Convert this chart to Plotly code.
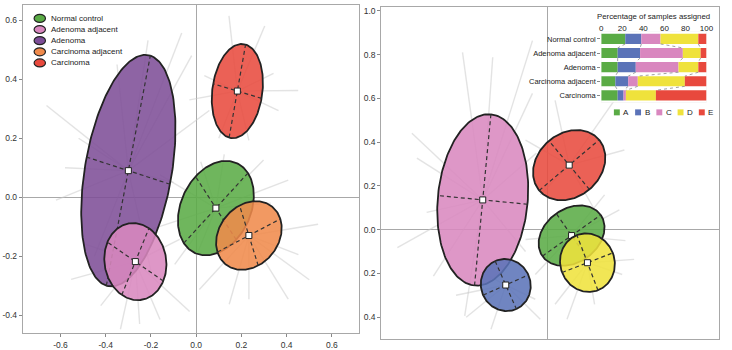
import numpy as np
import plotly.graph_objects as go

# ---------------- data ----------------
groups = ["Normal control", "Adenoma adjacent", "Adenoma", "Carcinoma adjacent", "Carcinoma"]
group_colors = ["#5aab45", "#d987bf", "#7d4d97", "#f08a4b", "#e8493d"]

# left panel ellipses (center, semi-axes, angle in degrees)
left_cx = [0.087, -0.269, -0.300, 0.233, 0.182]
left_cy = [-0.037, -0.2185, 0.090, -0.130, 0.360]
left_a = [0.185, 0.128, 0.402, 0.150, 0.162]
left_b = [0.140, 0.140, 0.190, 0.110, 0.110]
left_angle = [40, 62, 76, 22, 77]
left_order = [2, 1, 0, 3, 4]

# samples (spoke end points) for left panel, per group
left_samples = [
    [(0.124, 0.145), (0.407, 0.058), (-0.204, -0.11), (-0.095, -0.228), (0.298, 0.126), (-0.16, 0.076),
     (0.02, 0.12), (0.33, -0.02), (0.0, -0.2)],
    [(-0.422, -0.368), (-0.029, -0.388), (-0.16, -0.415), (-0.488, -0.16), (-0.073, -0.143), (-0.335, -0.448),
     (-0.553, -0.279), (-0.25, -0.43)],
    [(-0.064, 0.557), (-0.213, 0.532), (0.058, 0.294), (-0.662, 0.311), (-0.62, -0.01), (-0.52, 0.2),
     (-0.1, 0.05), (-0.45, -0.2), (-0.2, -0.25), (-0.35, 0.45), (-0.02, 0.48), (-0.58, 0.1)],
    [(0.452, -0.195), (0.407, -0.346), (0.233, -0.346), (0.539, -0.092), (0.014, -0.313), (0.146, -0.363),
     (0.5, -0.28)],
    [(0.303, 0.581), (0.342, 0.42), (0.364, 0.294), (0.036, 0.412), (-0.03, 0.33), (0.233, 0.193),
     (0.145, 0.615), (0.451, 0.362), (0.1, 0.2)],
]

clusters = ["A", "B", "C", "D", "E"]
cluster_colors = ["#5aab45", "#5b73b8", "#d987bf", "#efe23c", "#e8493d"]

right_cx = [0.112, -0.191, -0.297, 0.185, 0.101]
right_cy = [-0.027, -0.253, 0.136, -0.151, 0.295]
right_a = [0.164, 0.120, 0.393, 0.125, 0.180]
right_b = [0.123, 0.114, 0.207, 0.135, 0.145]
right_angle = [35, -66, 84.5, 21, 40]
right_order = [2, 1, 4, 0, 3]

right_samples = [
    [(0.332, 0.091), (-0.055, -0.205), (-0.1, -0.045), (0.264, 0.159), (0.36, -0.05)],
    [(-0.373, -0.4), (-0.032, -0.409), (-0.259, -0.455), (-0.055, -0.318), (-0.327, -0.182), (-0.42, -0.3)],
    [(-0.39, 0.81), (-0.251, 0.788), (-0.068, 0.864), (-0.068, 0.623), (-0.623, 0.441), (-0.6, 0.327),
     (-0.555, 0.079), (-0.69, -0.082), (-0.524, -0.212), (-0.38, -0.394), (-0.05, 0.35), (-0.1, -0.1)],
    [(0.091, -0.409), (0.218, -0.341), (0.345, -0.205), (0.4, -0.136), (0.036, -0.341)],
    [(0.036, 0.591), (0.309, 0.591), (0.355, 0.364), (-0.1, 0.409), (-0.032, 0.159), (0.218, 0.091)],
]

# inset: percentage of samples assigned to each cluster
pct = {
    "A": [22.8, 15.6, 15.6, 13.4, 15.6],
    "B": [15.3, 21.3, 17.2, 12.2, 5.6],
    "C": [18.2, 40.6, 40.6, 9.1, 2.2],
    "D": [35.9, 16.9, 18.8, 44.7, 28.5],
    "E": [7.8, 5.6, 7.8, 20.6, 48.1],
}

left_xticks = [-0.6, -0.4, -0.2, 0.0, 0.2, 0.4, 0.6]
left_yticks = [-0.4, -0.2, 0.0, 0.2, 0.4, 0.6]
right_yticks = [1.0, 0.8, 0.6, 0.4, 0.2, 0.0, -0.2, -0.4]
right_yticktext = ["1.0", "0.8", "0.6", "0.4", "0.2", "0.0", "0.2", "0.4"]
inset_xticks = [0, 20, 40, 60, 80, 100]

# ---------------- figure ----------------
FONT = "Liberation Sans, Arial, sans-serif"
W, H = 732, 350
fig = go.Figure()


def hexrgba(h, a):
    h = h.lstrip("#")
    return "rgba(%d,%d,%d,%.2f)" % (int(h[0:2], 16), int(h[2:4], 16), int(h[4:6], 16), a)


def add_panel(cx, cy, aa, bb, ang, samples, colors, order, xa, ya):
    # spokes
    for i in order:
        xs, ys = [], []
        for (sx, sy) in samples[i]:
            xs += [cx[i], sx, None]
            ys += [cy[i], sy, None]
        fig.add_trace(go.Scatter(x=xs, y=ys, mode="lines", xaxis=xa, yaxis=ya,
                                 line=dict(color="rgba(200,200,200,0.5)", width=1.4),
                                 hoverinfo="skip", showlegend=False))
    t = np.linspace(0, 2 * np.pi, 200)
    for i in order:
        th = np.deg2rad(ang[i])
        ux, uy = np.cos(th), np.sin(th)
        vx, vy = -np.sin(th), np.cos(th)
        ex = cx[i] + aa[i] * np.cos(t) * ux + bb[i] * np.sin(t) * vx
        ey = cy[i] + aa[i] * np.cos(t) * uy + bb[i] * np.sin(t) * vy
        fig.add_trace(go.Scatter(x=ex, y=ey, mode="lines", fill="toself", xaxis=xa, yaxis=ya,
                                 fillcolor=hexrgba(colors[i], 0.87),
                                 line=dict(color="#222222", width=1.8),
                                 hoverinfo="skip", showlegend=False))
        ax_x = [cx[i] - aa[i] * ux, cx[i] + aa[i] * ux, None, cx[i] - bb[i] * vx, cx[i] + bb[i] * vx]
        ax_y = [cy[i] - aa[i] * uy, cy[i] + aa[i] * uy, None, cy[i] - bb[i] * vy, cy[i] + bb[i] * vy]
        fig.add_trace(go.Scatter(x=ax_x, y=ax_y, mode="lines", xaxis=xa, yaxis=ya,
                                 line=dict(color="#333333", width=1.2, dash="4px,3px"),
                                 hoverinfo="skip", showlegend=False))
        fig.add_trace(go.Scatter(x=[cx[i]], y=[cy[i]], mode="markers", xaxis=xa, yaxis=ya,
                                 marker=dict(symbol="square", size=6, color="white",
                                             line=dict(color="#222222", width=1)),
                                 hoverinfo="skip", showlegend=False))


add_panel(left_cx, left_cy, left_a, left_b, left_angle, left_samples, group_colors, left_order, "x", "y")
add_panel(right_cx, right_cy, right_a, right_b, right_angle, right_samples, cluster_colors, right_order, "x2", "y2")

# inset stacked bars
ypos = list(range(len(groups)))
cum = np.zeros(len(groups))
bounds = []
for k, c in enumerate(clusters):
    vals = np.array(pct[c])
    fig.add_trace(go.Bar(x=vals, y=ypos, base=cum.copy(), orientation="h", xaxis="x3", yaxis="y3",
                         marker=dict(color=cluster_colors[k], line=dict(width=0)), width=0.72,
                         hoverinfo="skip", showlegend=False))
    cum = cum + vals
    if k < len(clusters) - 1:
        bounds.append(cum.copy())

# dotted connectors between bars
cx_, cy_ = [], []
for bnd in bounds:
    for i in range(len(groups) - 1):
        cx_ += [bnd[i], bnd[i + 1], None]
        cy_ += [i + 0.36, i + 1 - 0.36, None]
fig.add_trace(go.Scatter(x=cx_, y=cy_, mode="lines", xaxis="x3", yaxis="y3",
                         line=dict(color="#888888", width=0.8, dash="dot"),
                         hoverinfo="skip", showlegend=False))

axis_common = dict(showgrid=False, zeroline=True, zerolinecolor="#a8a8a8", zerolinewidth=1,
                   showline=True, linecolor="#a8a8a8", linewidth=1, mirror=True,
                   ticks="outside", ticklen=3, tickcolor="#888888",
                   tickfont=dict(size=8.5, color="#333333", family=FONT))
axis_noticks = {k: v for k, v in axis_common.items() if k != "ticks"}

fig.update_layout(
    width=W, height=H,
    margin=dict(l=0, r=0, t=0, b=0),
    paper_bgcolor="white", plot_bgcolor="white",
    showlegend=False, barmode="overlay",
    font=dict(family=FONT, color="#333333"),
    xaxis=dict(domain=[21 / W, 361 / W], range=[-0.767, 0.718], tickvals=left_xticks,
               ticktext=["%.1f" % v for v in left_xticks], anchor="y", **axis_common),
    yaxis=dict(domain=[1 - 334.3 / H, 1 - 4 / H], range=[-0.462, 0.652], tickvals=left_yticks,
               ticktext=["%.1f" % v for v in left_yticks], anchor="x", **axis_common),
    xaxis2=dict(domain=[384 / W, 726 / W], range=[-0.764, 0.791], showticklabels=False,
                anchor="y2", ticks="", **axis_noticks),
    yaxis2=dict(domain=[1 - 340 / H, 1 - 6 / H], range=[-0.5, 1.018], tickvals=right_yticks,
                ticktext=right_yticktext, anchor="x2", **axis_common),
    xaxis3=dict(domain=[606.7 / W, 713.3 / W], range=[0, 100], side="top", anchor="y3",
                tickvals=inset_xticks, showgrid=False, zeroline=False, showline=False,
                ticks="", ticklabelstandoff=-2,
                tickfont=dict(size=8, color="#222222", family=FONT)),
    yaxis3=dict(domain=[1 - 102 / H, 1 - 31 / H], range=[4.5, -0.5], anchor="x3",
                tickvals=ypos, ticktext=groups, showgrid=False, zeroline=False, showline=False,
                ticks="outside", ticklen=3, tickcolor="#888888",
                tickfont=dict(size=7.5, color="#222222", family=FONT)),
)

shapes = [dict(type="rect", xref="x3 domain", yref="y3 domain", x0=0, x1=1, y0=0, y1=1,
               fillcolor="#e2e2e2", line=dict(width=0), layer="below")]
annotations = []

# main legend (left panel)
for i, g in enumerate(groups):
    yc = 17.5 + i * 11.2
    shapes.append(dict(type="circle", xref="paper", yref="paper",
                       x0=32.5 / W, x1=44 / W, y0=1 - (yc + 4) / H, y1=1 - (yc - 4) / H,
                       fillcolor=group_colors[i], line=dict(color="#222222", width=1.2)))
    annotations.append(dict(x=47.5 / W, y=1 - yc / H, xref="paper", yref="paper", text=g,
                            showarrow=False, xanchor="left", yanchor="middle",
                            font=dict(size=8, color="#222222", family=FONT)))

# inset title
annotations.append(dict(x=660 / W, y=1 - 16 / H, xref="paper", yref="paper",
                        text="Percentage of samples assigned", showarrow=False,
                        xanchor="center", yanchor="middle",
                        font=dict(size=7.8, color="#222222", family=FONT)))

# inset legend
for k, c in enumerate(clusters):
    xl = 619.5 + k * 21.5
    shapes.append(dict(type="rect", xref="paper", yref="paper",
                       x0=xl / W, x1=(xl + 6) / W, y0=1 - 115 / H, y1=1 - 109 / H,
                       fillcolor=cluster_colors[k], line=dict(width=0)))
    annotations.append(dict(x=(xl + 7.5) / W, y=1 - 112 / H, xref="paper", yref="paper", text=c,
                            showarrow=False, xanchor="left", yanchor="middle",
                            font=dict(size=8, color="#222222", family=FONT)))

fig.update_layout(shapes=shapes, annotations=annotations)
fig.write_html("out.html")
